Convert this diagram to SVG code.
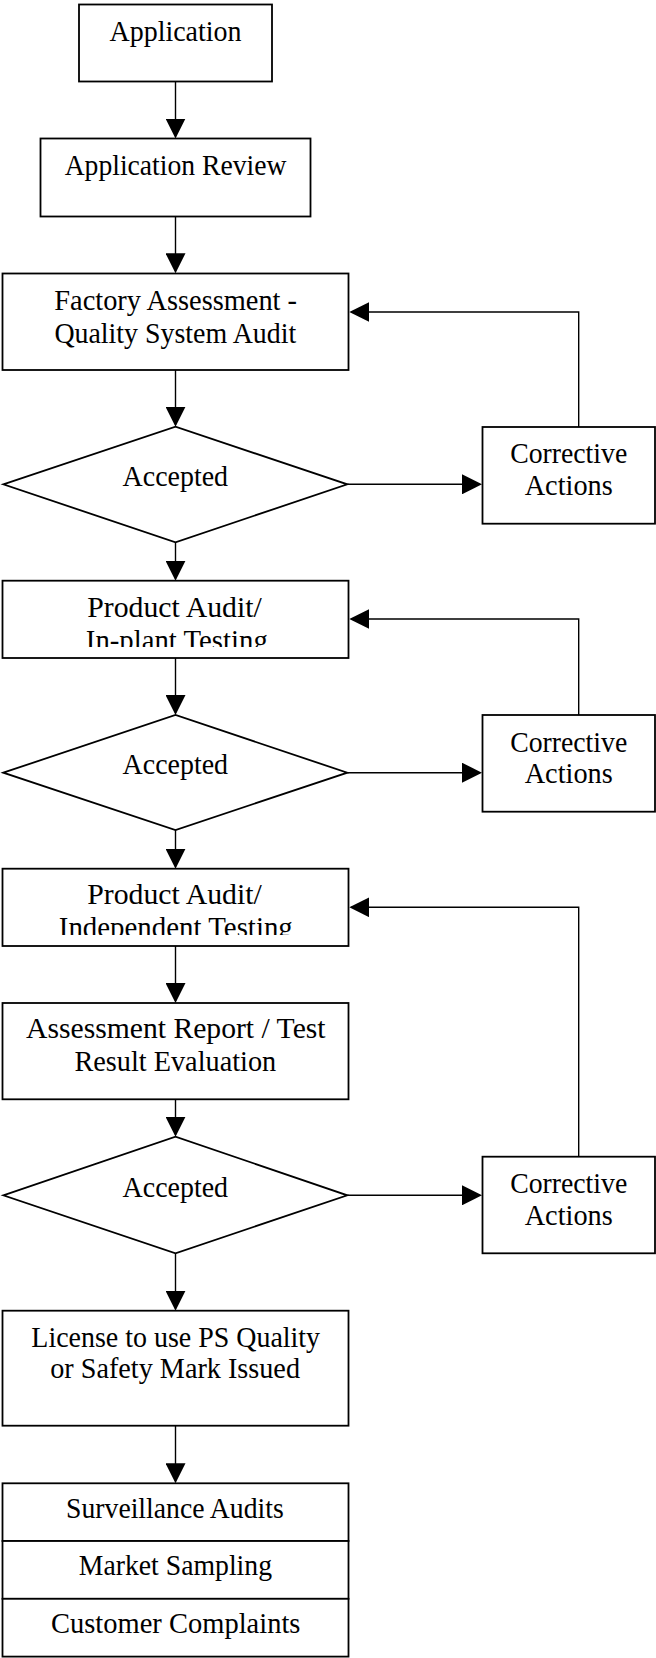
<svg xmlns="http://www.w3.org/2000/svg" width="656" height="1658" viewBox="0 0 656 1658">
<defs>
<marker id="ah" markerUnits="userSpaceOnUse" markerWidth="20" markerHeight="20" viewBox="0 0 20 20" refX="18" refY="10" orient="auto">
<path d="M0,0 L20,10 L0,20 z" fill="#000"/>
</marker>
<clipPath id="clipPa1"><rect x="0" y="580" width="350" height="67"/></clipPath>
<clipPath id="clipPa2"><rect x="0" y="868" width="350" height="67"/></clipPath>
</defs>
<style>
.box{fill:#fff;stroke:#000;stroke-width:1.8}
.ln{fill:none;stroke:#000;stroke-width:1.4;marker-end:url(#ah)}
text{font-family:"Liberation Serif","Times New Roman",serif;font-size:29.5px;fill:#000;text-anchor:middle}
</style>
<g id="connectors">
<line class="ln" x1="175.5" y1="81.7" x2="175.5" y2="136.5"/>
<line class="ln" x1="175.5" y1="216.5" x2="175.5" y2="271.3"/>
<line class="ln" x1="175.5" y1="370" x2="175.5" y2="424.7"/>
<line class="ln" x1="175.5" y1="542.3" x2="175.5" y2="578.7"/>
<line class="ln" x1="175.5" y1="658" x2="175.5" y2="713"/>
<line class="ln" x1="175.5" y1="830" x2="175.5" y2="866.7"/>
<line class="ln" x1="175.5" y1="946" x2="175.5" y2="1001"/>
<line class="ln" x1="175.5" y1="1099.3" x2="175.5" y2="1134.7"/>
<line class="ln" x1="175.5" y1="1253.3" x2="175.5" y2="1308.7"/>
<line class="ln" x1="175.5" y1="1425.7" x2="175.5" y2="1481.3"/>
<line class="ln" x1="347.3" y1="484.3" x2="480" y2="484.3"/>
<line class="ln" x1="347.3" y1="772.7" x2="480" y2="772.7"/>
<line class="ln" x1="347.3" y1="1195.3" x2="480" y2="1195.3"/>
<polyline class="ln" points="578.7,427 578.7,312 351.3,312"/>
<polyline class="ln" points="578.7,715 578.7,619 351.3,619"/>
<polyline class="ln" points="578.7,1156.7 578.7,907.3 351.3,907.3"/>
</g>
<g id="application">
<rect class="box" x="79" y="4.5" width="193" height="77"/>
<text x="175.5" y="40.7" textLength="132" lengthAdjust="spacingAndGlyphs">Application</text>
</g>
<g id="application-review">
<rect class="box" x="40.5" y="138.5" width="270" height="78"/>
<text x="175.5" y="175" textLength="221.7" lengthAdjust="spacingAndGlyphs">Application Review</text>
</g>
<g id="factory-assessment">
<rect class="box" x="2.5" y="273.5" width="346" height="96.5"/>
<text x="175.7" y="310" textLength="242.7" lengthAdjust="spacingAndGlyphs">Factory Assessment -</text>
<text x="175.3" y="343.3" textLength="241.8" lengthAdjust="spacingAndGlyphs">Quality System Audit</text>
</g>
<g id="accepted-1">
<polygon class="box" points="3.3,484.3 175.5,426.7 347.3,484.3 175.5,542.3"/>
<text x="175.3" y="486" textLength="105.4" lengthAdjust="spacingAndGlyphs">Accepted</text>
</g>
<g id="corrective-1">
<rect class="box" x="482.5" y="427" width="172.5" height="96.7"/>
<text x="568.7" y="463.2" textLength="117" lengthAdjust="spacingAndGlyphs">Corrective</text>
<text x="568.7" y="495" textLength="88" lengthAdjust="spacingAndGlyphs">Actions</text>
</g>
<g id="product-audit-inplant">
<rect class="box" x="2.5" y="580.7" width="346" height="77.3"/>
<text x="174.5" y="616.7" textLength="174.5" lengthAdjust="spacingAndGlyphs">Product Audit/</text>
<text x="176.8" y="649.7" textLength="182" lengthAdjust="spacingAndGlyphs" clip-path="url(#clipPa1)">In-plant Testing</text>
</g>
<g id="accepted-2">
<polygon class="box" points="3.3,772.7 175.5,715 347.3,772.7 175.5,830"/>
<text x="175.3" y="774.4" textLength="105.4" lengthAdjust="spacingAndGlyphs">Accepted</text>
</g>
<g id="corrective-2">
<rect class="box" x="482.5" y="715" width="172.5" height="96.7"/>
<text x="568.7" y="751.5" textLength="117" lengthAdjust="spacingAndGlyphs">Corrective</text>
<text x="568.7" y="783" textLength="88" lengthAdjust="spacingAndGlyphs">Actions</text>
</g>
<g id="product-audit-independent">
<rect class="box" x="2.5" y="868.7" width="346" height="77.3"/>
<text x="174.5" y="904.3" textLength="174.5" lengthAdjust="spacingAndGlyphs">Product Audit/</text>
<text x="175.8" y="937.3" textLength="234" lengthAdjust="spacingAndGlyphs" clip-path="url(#clipPa2)">Independent Testing</text>
</g>
<g id="assessment-report">
<rect class="box" x="2.5" y="1003" width="346" height="96.3"/>
<text x="175.8" y="1038.3" textLength="299.6" lengthAdjust="spacingAndGlyphs">Assessment Report / Test</text>
<text x="175.3" y="1071" textLength="201.7" lengthAdjust="spacingAndGlyphs">Result Evaluation</text>
</g>
<g id="accepted-3">
<polygon class="box" points="3.3,1195.3 175.5,1136.7 347.3,1195.3 175.5,1253.3"/>
<text x="175.3" y="1196.7" textLength="105.4" lengthAdjust="spacingAndGlyphs">Accepted</text>
</g>
<g id="corrective-3">
<rect class="box" x="482.5" y="1156.7" width="172.5" height="96.6"/>
<text x="568.7" y="1193.2" textLength="117" lengthAdjust="spacingAndGlyphs">Corrective</text>
<text x="568.7" y="1225" textLength="88" lengthAdjust="spacingAndGlyphs">Actions</text>
</g>
<g id="license">
<rect class="box" x="2.5" y="1310.7" width="346" height="115"/>
<text x="175.7" y="1346.7" textLength="288.7" lengthAdjust="spacingAndGlyphs">License to use PS Quality</text>
<text x="175.1" y="1378.3" textLength="249.8" lengthAdjust="spacingAndGlyphs">or Safety Mark Issued</text>
</g>
<g id="surveillance">
<rect class="box" x="2.5" y="1483.3" width="346" height="57.7"/>
<rect class="box" x="2.5" y="1541" width="346" height="57.8"/>
<rect class="box" x="2.5" y="1598.8" width="346" height="57.8"/>
<text x="174.9" y="1518.3" textLength="217.6" lengthAdjust="spacingAndGlyphs">Surveillance Audits</text>
<text x="175.4" y="1575" textLength="193.3" lengthAdjust="spacingAndGlyphs">Market Sampling</text>
<text x="175.7" y="1633.3" textLength="249.4" lengthAdjust="spacingAndGlyphs">Customer Complaints</text>
</g>
</svg>
